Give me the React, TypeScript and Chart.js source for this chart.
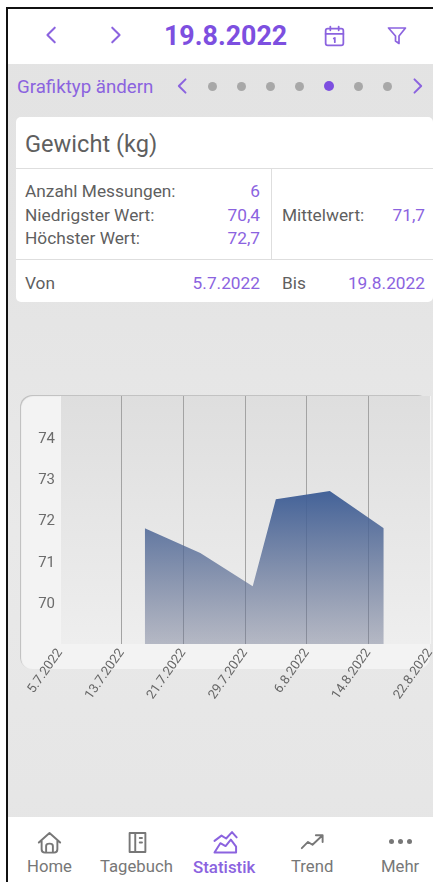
import React, { useEffect, useRef } from "react";
import { Chart, registerables } from "chart.js";

Chart.register(...registerables);

// days since 5.7.2022
const measurementDays = [11, 18.2, 25, 28, 35, 42];
const weightValues = [71.8, 71.2, 70.4, 72.5, 72.7, 71.8];
const xTickDays = [0, 8, 16, 24, 32, 40, 48];
const xTickLabels = ["5.7.2022", "13.7.2022", "21.7.2022", "29.7.2022", "6.8.2022", "14.8.2022", "22.8.2022"];
const yTickValues = [69, 70, 71, 72, 73, 74, 75];
const yTickLabels = ["", "70", "71", "72", "73", "74", ""];
const pagerDots = [0, 1, 2, 3, 4, 5, 6];
const ACTIVE_DOT = 4;

const PURPLE = "#7d4fe0";
const SOFT_PURPLE = "#8b63df";
const TEXT = "#5f5f5f";
const FONT = "Roboto, sans-serif";

const plotBackground = {
  id: "plotBackground",
  beforeDraw(chart: any) {
    const { ctx, chartArea: a } = chart;
    const g = ctx.createLinearGradient(0, a.top, 0, a.bottom);
    g.addColorStop(0, "#dedede");
    g.addColorStop(1, "#eeeeee");
    ctx.save();
    ctx.fillStyle = g;
    ctx.fillRect(a.left, a.top, a.right - a.left, a.bottom - a.top);
    ctx.restore();
  },
};

function WeightChart() {
  const ref = useRef<HTMLCanvasElement>(null);
  useEffect(() => {
    const chart = new Chart(ref.current!, {
      type: "line",
      data: {
        datasets: [
          {
            data: measurementDays.map((d, i) => ({ x: d, y: weightValues[i] })),
            fill: "origin",
            tension: 0,
            borderWidth: 0,
            pointRadius: 0,
            backgroundColor: (c: any) => {
              const { chart: ch } = c;
              if (!ch.chartArea) return "#46659a";
              const top = ch.scales.y.getPixelForValue(Math.max(...weightValues));
              const g = ch.ctx.createLinearGradient(0, top, 0, ch.chartArea.bottom);
              g.addColorStop(0, "rgba(62,94,150,0.97)");
              g.addColorStop(1, "rgba(110,118,145,0.45)");
              return g;
            },
          },
        ],
      },
      options: {
        responsive: false,
        animation: false,
        events: [],
        layout: { padding: { top: 16, right: 3, left: 0, bottom: 0 } },
        plugins: { legend: { display: false }, tooltip: { enabled: false } },
        scales: {
          x: {
            type: "linear",
            min: 0,
            max: 48,
            afterBuildTicks: (s: any) => {
              s.ticks = xTickDays.map((v) => ({ value: v }));
            },
            afterFit: (s: any) => {
              s.height = 76;
              s.paddingLeft = 0;
              s.paddingRight = 0;
            },
            border: { display: false },
            grid: {
              drawTicks: false,
              lineWidth: 1,
              color: (c: any) =>
                c.index === 0 || c.index === xTickDays.length - 1 ? "#f4f4f4" : "#a3a3a3",
            },
            ticks: {
              autoSkip: false,
              minRotation: 55,
              maxRotation: 55,
              padding: 2,
              labelOffset: 0,
              color: "#666666",
              font: { family: FONT, size: 13 },
              callback: (_v: any, i: number) => xTickLabels[i],
            },
          },
          y: {
            min: 69,
            max: 75,
            afterBuildTicks: (s: any) => {
              s.ticks = yTickValues.map((v) => ({ value: v }));
            },
            afterFit: (s: any) => {
              s.width = 60;
            },
            border: { display: false },
            grid: { display: false, drawTicks: false, tickLength: 0 },
            ticks: {
              padding: 5,
              labelOffset: 1.5,
              color: "#6b6b6b",
              font: { family: FONT, size: 15 },
              callback: (_v: any, i: number) => yTickLabels[i],
            },
          },
        },
      },
      plugins: [plotBackground],
    } as any);
    return () => chart.destroy();
  }, []);
  return (
    <canvas
      ref={ref}
      width={433}
      height={340}
      style={{ position: "absolute", left: 0, top: 380, width: 433, height: 340, display: "block" }}
    />
  );
}

function T({
  x,
  y,
  right,
  size = 17.3,
  color = TEXT,
  weight = 400,
  children,
}: {
  x?: number;
  y: number;
  right?: number;
  size?: number;
  color?: string;
  weight?: number;
  children: React.ReactNode;
}) {
  const style: React.CSSProperties = {
    position: "absolute",
    top: y - 15,
    height: 30,
    lineHeight: "30px",
    fontSize: size,
    color,
    fontWeight: weight,
    whiteSpace: "nowrap",
    fontFamily: FONT,
  };
  if (right !== undefined) style.right = 433 - right;
  else style.left = x;
  return <div style={style}>{children}</div>;
}

function Box({ x, y, w, h, bg, r = 0, shadow }: { x: number; y: number; w: number; h: number; bg: string; r?: number; shadow?: string }) {
  return <div style={{ position: "absolute", left: x, top: y, width: w, height: h, background: bg, borderRadius: r, boxShadow: shadow }} />;
}

function Icon({ cx, cy, size, children, color, sw = 1.7 }: { cx: number; cy: number; size: number; color: string; sw?: number; children: React.ReactNode }) {
  return (
    <svg
      viewBox="0 0 24 24"
      width={size}
      height={size}
      fill="none"
      stroke={color}
      strokeWidth={sw}
      strokeLinecap="round"
      strokeLinejoin="round"
      style={{ position: "absolute", left: cx - size / 2, top: cy - size / 2 }}
    >
      {children}
    </svg>
  );
}

const Left = () => <path d="M15 4 L7 12 L15 20" />;
const Right = () => <path d="M9 4 L17 12 L9 20" />;

export default function App() {
  useEffect(() => {
    document.body.style.margin = "0";
  }, []);
  return (
    <div
      style={{
        position: "relative",
        width: 433,
        height: 882,
        overflow: "hidden",
        background: "#ffffff",
        fontFamily: FONT,
        filter: "blur(0.45px)",
      }}
    >
      <Box x={8} y={8} w={425} h={874} bg="linear-gradient(#e3e3e3 0%, #e4e4e4 30%, #e9e9e9 60%, #e5e5e5 100%)" />
      <Box x={6} y={7} w={2} h={875} bg="#111" />
      <Box x={6} y={7} w={427} h={1.5} bg="#111" />

      {/* header */}
      <Box x={8} y={9} w={425} h={55} bg="#fff" />
      <Icon cx={52} cy={35} size={22} color={SOFT_PURPLE} sw={2.2}><Left /></Icon>
      <Icon cx={115} cy={35} size={22} color={SOFT_PURPLE} sw={2.2}><Right /></Icon>
      <T x={164} y={36} size={26.8} weight={700} color={PURPLE}>19.8.2022</T>
      <Icon cx={334} cy={36} size={25} color={SOFT_PURPLE}>
        <rect x="3.5" y="4.5" width="17" height="16" rx="2" />
        <path d="M3.5 9.5 H20.5 M8 2.5 V6 M16 2.5 V6 M11.3 14 L12.3 13.3 V17.5" />
      </Icon>
      <Icon cx={397} cy={35} size={24} color={SOFT_PURPLE}>
        <path d="M3.5 5 H20.5 L14 13 V20.5 L10.5 18 V13 Z" />
      </Icon>

      {/* pager */}
      <T x={17} y={87} size={18.7} color={SOFT_PURPLE}>Grafiktyp ändern</T>
      <Icon cx={183} cy={86} size={20} color={SOFT_PURPLE} sw={2.4}><Left /></Icon>
      <Icon cx={417} cy={86} size={20} color={SOFT_PURPLE} sw={2.4}><Right /></Icon>
      {pagerDots.map((d) => {
        const active = d === ACTIVE_DOT;
        return (
          <Box
            key={d}
            x={212 + d * 29.2 - (active ? 5 : 4.5)}
            y={86 - (active ? 5 : 4.5)}
            w={active ? 10 : 9}
            h={active ? 10 : 9}
            r={5}
            bg={active ? PURPLE : "#a8a8a8"}
          />
        );
      })}

      {/* summary card */}
      <Box x={16} y={117} w={417} h={185} r={5} bg="#fff" />
      <Box x={16} y={167.5} w={417} h={1.3} bg="#dedede" />
      <Box x={16} y={258.5} w={417} h={1.3} bg="#dedede" />
      <Box x={270.5} y={168} w={1.3} h={91} bg="#dedede" />
      <T x={25} y={144} size={23.6}>Gewicht (kg)</T>
      <T x={25} y={191}>Anzahl Messungen:</T>
      <T x={25} y={215}>Niedrigster Wert:</T>
      <T x={25} y={238}>Höchster Wert:</T>
      <T right={260} y={191} color={SOFT_PURPLE}>6</T>
      <T right={260} y={215} color={SOFT_PURPLE}>70,4</T>
      <T right={260} y={238} color={SOFT_PURPLE}>72,7</T>
      <T x={282} y={215}>Mittelwert:</T>
      <T right={425} y={215} color={SOFT_PURPLE}>71,7</T>
      <T x={25} y={283}>Von</T>
      <T right={260} y={283} color={SOFT_PURPLE}>5.7.2022</T>
      <T x={282} y={283}>Bis</T>
      <T right={425} y={283} color={SOFT_PURPLE}>19.8.2022</T>

      {/* chart */}
      <Box x={20} y={395} w={410} h={274} r={12} bg="#f3f3f3" shadow="inset 1px 1px 1px #bdbdbd" />
      <WeightChart />

      {/* bottom nav */}
      <Box x={8} y={817} w={425} h={65} bg="#fff" />
      <Icon cx={49} cy={842} size={27} color="#777">
        <path d="M2.5 12 L12 3.5 L21.5 12 M5 10.5 V18 Q5 21 8 21 H16 Q19 21 19 18 V10.5 M9 21 V15 Q9 13 12 13 Q15 13 15 15 V21" />
      </Icon>
      <Icon cx={137} cy={842} size={27} color="#777">
        <path d="M5 3.5 H19 V20.5 H5 Z M10 3.5 V20.5 M14 8 H16 M14 12 H16" />
      </Icon>
      <Icon cx={225} cy={842} size={28} color={SOFT_PURPLE}>
        <path d="M3 11 L9 6.5 L13 9 L18 3.5 L22 8 M3 21 H21.5 M3 21 L8 13 L12.5 15.5 L17 10 L21.5 16 V21" />
      </Icon>
      <Icon cx={312} cy={842} size={27} color="#777">
        <path d="M2.5 17 L8 11.5 L12 14 L20.5 6 M15 5.5 H21 V11.5" />
      </Icon>
      {[391, 400, 409].map((x) => (
        <Box key={x} x={x - 2} y={839} w={4.5} h={4.5} r={3} bg="#777" />
      ))}
      <T x={27} y={867} size={16.7} color="#777">Home</T>
      <T x={100} y={867} size={16.7} color="#777">Tagebuch</T>
      <T x={193} y={867} size={16.9} weight={500} color={SOFT_PURPLE}>Statistik</T>
      <T x={291} y={867} size={16.7} color="#777">Trend</T>
      <T x={381} y={867} size={16.7} color="#777">Mehr</T>
    </div>
  );
}
